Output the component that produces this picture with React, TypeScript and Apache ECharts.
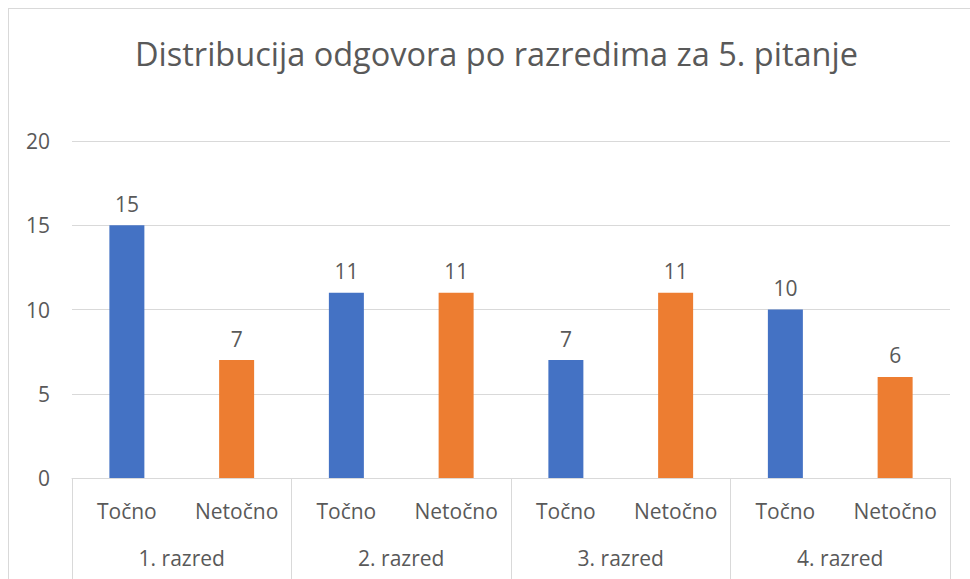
import React, { useEffect, useRef } from "react";
import * as echarts from "echarts";

const titleText = "Distribucija odgovora po razredima za 5. pitanje";
const groups = ["1. razred", "2. razred", "3. razred", "4. razred"];
const answerTypes = ["Točno", "Netočno"];
const tocno = [15, 11, 7, 10];
const netocno = [7, 11, 11, 6];
const yTicks = { min: 0, max: 20, interval: 5 };

const BLUE = "#4472C4";
const ORANGE = "#ED7D31";
const TEXT = "#595959";
const LINE = "#D9D9D9";
const FONT = "'Open Sans', sans-serif";

export default function App() {
  const ref = useRef<HTMLDivElement>(null);
  useEffect(() => {
    document.body.style.overflow = "hidden";
    if (!ref.current) return;
    const chart = echarts.init(ref.current, null, { renderer: "svg" });
    const cats: string[] = [];
    const data: any[] = [];
    groups.forEach((g, i) => {
      cats.push(answerTypes[0]);
      data.push({ value: tocno[i], itemStyle: { color: BLUE } });
      cats.push(answerTypes[1]);
      data.push({ value: netocno[i], itemStyle: { color: ORANGE } });
    });
    chart.setOption({
      animation: false,
      title: {
        text: titleText,
        left: 135,
        top: 37,
        padding: 0,
        textStyle: { fontFamily: FONT, fontSize: 32.5, fontWeight: "normal", color: TEXT },
      },
      grid: { left: 72, right: 20, top: 141, bottom: 101, containLabel: false },
      xAxis: [
        {
          type: "category",
          data: cats,
          position: "bottom",
          axisLine: { show: true, lineStyle: { color: LINE, width: 1 } },
          axisTick: { show: false },
          axisLabel: {
            interval: 0,
            margin: 22,
            color: TEXT,
            fontFamily: FONT,
            fontSize: 21,
            lineHeight: 22,
          },
        },
        {
          type: "category",
          data: groups,
          position: "bottom",
          axisLine: { show: false },
          axisTick: { show: true, length: 120, interval: 0, lineStyle: { color: LINE, width: 1 } },
          axisLabel: {
            interval: 0,
            margin: 69,
            color: TEXT,
            fontFamily: FONT,
            fontSize: 21,
            lineHeight: 22,
          },
        },
      ],
      yAxis: {
        type: "value",
        min: yTicks.min,
        max: yTicks.max,
        interval: yTicks.interval,
        axisLine: { show: false },
        axisTick: { show: false },
        splitLine: { show: true, lineStyle: { color: LINE, width: 1 } },
        axisLabel: { margin: 22, color: TEXT, fontFamily: FONT, fontSize: 21 },
      },
      series: [
        {
          type: "bar",
          xAxisIndex: 0,
          data,
          barWidth: 35,
          label: {
            show: true,
            position: "top",
            distance: 11,
            color: TEXT,
            fontFamily: FONT,
            fontSize: 21,
          },
        },
      ],
    });
    return () => chart.dispose();
  }, []);
  return (
    <div style={{ position: "fixed", left: 0, top: 0, width: 970, height: 579, overflow: "hidden", background: "#fff" }}>
      <div
        style={{
          position: "absolute",
          left: 8,
          top: 8,
          width: 1000,
          height: 700,
          border: `1px solid ${LINE}`,
          boxSizing: "border-box",
        }}
      />
      <div ref={ref} style={{ position: "absolute", left: 0, top: 0, width: 970, height: 579 }} />
    </div>
  );
}
